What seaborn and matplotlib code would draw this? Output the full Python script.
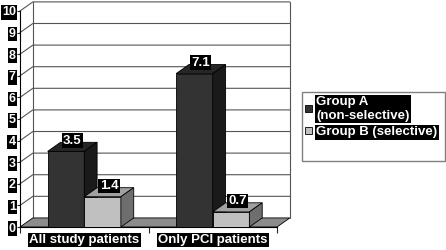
import matplotlib
matplotlib.use('Agg')
import pandas as pd
import matplotlib.pyplot as plt
from matplotlib.patches import Polygon, Rectangle, Patch
import seaborn as sns

# data
categories = ['All study patients', 'Only PCI patients']
groups = ['Group A\n(non-selective)', 'Group B (selective)']
group_a = [3.5, 7.1]
group_b = [1.4, 0.7]
y_ticks = list(range(0, 11))

# colours for front / top / side faces
front_colors = ['#333333', '#c0c0c0']
top_colors = ['#262626', '#a0a0a0']
side_colors = ['#1a1a1a', '#6e6e6e']

df = pd.DataFrame({
    'category': categories * 2,
    'group': [groups[0]] * len(categories) + [groups[1]] * len(categories),
    'value': group_a + group_b,
})

sns.set_style('white')
plt.rcParams['font.family'] = ['Liberation Sans', 'DejaVu Sans']
plt.rcParams['font.weight'] = 'bold'
fs = 9.5
label_box = dict(facecolor='black', edgecolor='none', boxstyle='square,pad=0.1')

fig = plt.figure(figsize=(4.46, 2.5), dpi=100)
ax = fig.add_axes([20 / 446, 23 / 250, 257 / 446, 229 / 250])

sns.barplot(data=df, x='category', y='value', hue='group', order=categories,
            hue_order=groups, palette=front_colors, width=0.57, saturation=1,
            edgecolor='black', linewidth=0.6, legend=False, ax=ax)

xmin, xmax = -0.5, 1.5
dx, dy = 0.10, 0.42
ax.set_xlim(xmin, xmax)
ax.set_ylim(0, 10.6)
ax.set_xlabel('')
ax.set_ylabel('')

# back wall grid + side slants
for v in y_ticks[1:]:
    ax.plot([xmin, xmin + dx, xmax + dx], [v, v + dy, v + dy],
            color='#555555', lw=0.8, zorder=0.5, clip_on=False)
for xe in [xmin + dx, xmax + dx]:
    ax.plot([xe, xe], [dy, y_ticks[-1] + dy], color='#555555', lw=0.8,
            zorder=0.5, clip_on=False)

# floor
ax.add_patch(Polygon([(xmin, 0), (xmax, 0), (xmax + dx, dy), (xmin + dx, dy)],
                     closed=True, fc='#8c8c8c', ec='black', lw=0.6, zorder=1,
                     clip_on=False))

# 3d faces for each bar
bars = list(ax.patches)[:len(df)]
for i, bar in enumerate(bars):
    g = i // len(categories)
    z = 3 + g
    x0 = bar.get_x()
    w = bar.get_width()
    h = bar.get_height()
    bar.set_zorder(z)
    top = Polygon([(x0, h), (x0 + w, h), (x0 + w + dx, h + dy), (x0 + dx, h + dy)],
                  closed=True, fc=top_colors[g], ec='black', lw=0.6, zorder=z)
    side = Polygon([(x0 + w, 0), (x0 + w + dx, dy), (x0 + w + dx, h + dy), (x0 + w, h)],
                   closed=True, fc=side_colors[g], ec='black', lw=0.6, zorder=z)
    ax.add_patch(top)
    ax.add_patch(side)
    ax.text(x0 + w / 2 + dx / 2, h + 0.5, f'{h:.1f}', ha='center', va='center',
            color='white', fontsize=fs, fontweight='bold', bbox=label_box, zorder=10)

# axes and ticks
for s in ['top', 'right']:
    ax.spines[s].set_visible(False)
ax.spines['left'].set_bounds(0, 10)
ax.spines['left'].set_color('black')
ax.spines['left'].set_linewidth(0.8)
ax.spines['bottom'].set_color('black')
ax.spines['bottom'].set_linewidth(0.8)

ax.set_yticks(y_ticks)
ax.set_yticklabels([str(t) for t in y_ticks])
ax.tick_params(axis='y', left=True, length=2.5, width=0.8, pad=0.5,
               labelsize=9, labelcolor='white')
ax.set_xticks([0, 1])
ax.set_xticklabels(categories)
ax.set_xticks([-0.5, 0.5, 1.5], minor=True)
ax.tick_params(axis='x', which='major', length=0, pad=5, labelsize=fs, labelcolor='white')
ax.tick_params(axis='x', which='minor', bottom=True, length=4, width=0.8)
for lab in ax.get_yticklabels() + ax.get_xticklabels():
    lab.set_bbox(label_box)
    lab.set_fontweight('bold')

# legend
fig.patches.append(Rectangle((302 / 446, 1 - 161 / 250), 143 / 446, 69 / 250,
                             transform=fig.transFigure, fill=False,
                             ec='#808080', lw=1))
handles = [Patch(fc=c, ec='black', lw=0.6) for c in front_colors]
leg = fig.legend(handles, groups, loc='upper left',
                 bbox_to_anchor=(305 / 446, 1 - 96 / 250), frameon=False,
                 fontsize=fs, handlelength=0.5, handleheight=0.5,
                 handletextpad=0.35, labelspacing=0.35, borderpad=0,
                 borderaxespad=0)
for t in leg.get_texts():
    t.set_color('white')
    t.set_fontweight('bold')
    t.set_bbox(label_box)

fig.savefig('out.png', dpi=100)
